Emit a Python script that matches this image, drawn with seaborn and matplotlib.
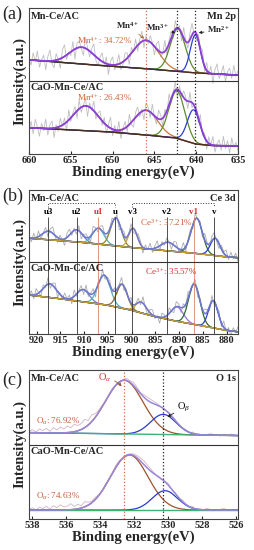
import numpy as np
import pandas as pd
import seaborn as sns
import matplotlib.pyplot as plt

sns.set_style("ticks")
plt.rcParams['font.family'] = ['Liberation Serif', 'DejaVu Serif']
plt.rcParams['mathtext.fontset'] = 'custom'
plt.rcParams['mathtext.rm'] = 'Liberation Serif'
plt.rcParams['mathtext.it'] = 'Liberation Serif:italic'
plt.rcParams['mathtext.bf'] = 'Liberation Serif:bold'

##################################
## data
##################################

# (a) Mn 2p  -- peak centre, height above background, width (eV)
mn_xlim = (660, 635)
mn_ticks = [660, 655, 650, 645, 640, 635]
mn_guides = [646.0, 642.3, 640.1]
mn_top_c = [653.7, 646.0, 642.2, 640.1]
mn_top_h = [0.23, 0.39, 0.58, 0.52]
mn_top_s = [1.45, 1.5, 0.9, 0.6]
mn_top_bx = [660, 650, 645, 640, 635]
mn_top_by = [1.29, 1.20, 1.16, 1.11, 1.08]
mn_bot_c = [653.2, 646.0, 642.3, 640.3]
mn_bot_h = [0.34, 0.34, 0.65, 0.46]
mn_bot_s = [1.5, 1.4, 0.95, 0.75]
mn_bot_bx = [660, 650, 645, 642.5, 641, 640, 638, 635]
mn_bot_by = [0.36, 0.30, 0.25, 0.22, 0.17, 0.135, 0.115, 0.11]
mn_top_noise = [3, -7, 10, -2, 13, -9, 1, 8, -12, 6, 15, -4, -10, 9, 0, -13, 11, 16, -6, 2,
                 -5, 12, -14, 7, 9, -1, -11, 14, 3, -8, 6, 15, -5, -10, 4, 12, -3, 9, -14, 5,
                 11, -7, 1, 13, -9, -3, 10, 7, -12, 8, -2, 12, -8, 5, 14, -10, 6, -4, 9, 2,
                 -12, 7, 13, -6, -1, 15, -9, 4, 10, -7, 12, -2, 5, -11, 14, 1, -8, 9, 16, -4,
                 -10, 8, 3, 13, -7, 11, -3, 10, -13, 6, 14, -6, 2, 12, -9, 4, 9, -5, 13, -2, 6]
mn_bot_noise = [-4, 9, -8, 12, 2, -11, 7, -3, 13, -9, 5, 10, -13, 4, -6, 11, -1, 8, -12, 14,
                -5, 3, 9, -10, 12, -7, 1, 11, -14, 6, -2, 13, -8, 4, 10, -6, 8, -11, 3, 15,
                -9, 6, -4, 12, -12, 2, 9, -7, 14, -3, -10, 7, 11, -5, 3, -13, 10, 5, -8, 13,
                -2, -9, 12, 6, -11, 8, -4, 15, -6, 1, 11, -12, 7, -3, 9, 4, -10, 13, -7, 2,
                10, -8, 14, -5, 6, -11, 9, -1, 12, -9, 3, 8, -6, 13, -4, 7, -10, 11, -2, 5, -7]

# (b) Ce 3d
ce_xlim = (921.6, 877.6)
ce_ticks = [920, 915, 910, 905, 900, 895, 890, 885, 880]
ce_names = ['u3', 'u2', 'u1', 'u', 'v3', 'v2', 'v1', 'v']
ce_guides = [917.5, 911.6, 907.0, 903.5, 899.9, 892.6, 886.9, 882.7]
ce_top_c = [917.5, 911.6, 907.0, 903.3, 899.7, 892.3, 886.3, 882.4]
ce_top_h = [0.12, 0.17, 0.22, 0.39, 0.27, 0.12, 0.49, 0.24]
ce_top_s = [1.3, 1.3, 1.2, 1.1, 0.9, 1.5, 1.2, 1.0]
ce_top_bx = [921.6, 910, 900, 890, 885, 880, 877.6]
ce_top_by = [1.33, 1.27, 1.20, 1.14, 1.11, 1.07, 1.06]
ce_bot_c = [917.2, 910.2, 905.8, 902.0, 898.0, 890.4, 886.8, 882.8]
ce_bot_h = [0.19, 0.17, 0.41, 0.33, 0.15, 0.20, 0.56, 0.38]
ce_bot_s = [1.4, 1.3, 1.3, 1.1, 1.1, 1.3, 1.2, 1.0]
ce_bot_bx = [921.6, 915, 905, 900, 895, 890, 885, 880, 877.6]
ce_bot_by = [0.54, 0.49, 0.40, 0.33, 0.24, 0.17, 0.11, 0.05, 0.03]
ce_top_noise = [2, -5, 7, -3, 8, -6, 1, 6, -8, 4, 9, -2, -7, 5, 0, -9, 6, 8, -4, 3,
                -6, 7, -8, 2, 5, -1, -7, 9, 3, -5, 4, 8, -3, -6, 2, 7, -2, 5, -9, 3,
                6, -4, 1, 8, -6, -2, 7, 4, -8, 5, -1, 8, -5, 3, 9, -7, 4, -3, 6, 1,
                -8, 5, 7, -4, 0, 9, -6, 3, 6, -5, 8, -1, 4, -7, 9, 2, -5, 6, 8, -3,
                -7, 5, 2, 8, -4, 7, -2, 6, -5]
ce_bot_noise = [-3, 6, -5, 8, 1, -7, 5, -2, 9, -6, 3, 7, -8, 2, -4, 7, 0, 5, -8, 9,
                -3, 2, 6, -7, 8, -5, 1, 7, -9, 4, -1, 8, -5, 3, 6, -4, 5, -7, 2, 9,
                -6, 4, -3, 8, -8, 1, 6, -4, 9, -2, -7, 5, 7, -3, 2, -8, 6, 3, -5, 8,
                -1, -6, 7, 4, -7, 5, -3, 9, -4, 1, 7, -8, 4, -2, 6, 3, -6, 8, -5, 1,
                6, -5, 9, -3, 4, -7, 5, -1, 7]

# (c) O 1s
o_xlim = (538.2, 525.9)
o_ticks = [538, 536, 534, 532, 530, 528, 526]
o_guides = [532.6, 530.3]
o_top_c = [532.6, 530.3]
o_top_h = [0.72, 0.27]
o_top_s = [1.1, 0.75]
o_top_bx = [538.2, 525.9]
o_top_by = [1.16, 1.12]
o_bot_c = [532.3, 530.2]
o_bot_h = [0.74, 0.26]
o_bot_s = [1.1, 0.75]
o_bot_bx = [538.2, 525.9]
o_bot_by = [0.12, 0.12]
o_top_noise = [2, 4, 1, 5, 3, 6, 2, 7, 4, 8, 5, 9, 6, 10, 7, 8, 11, 6, 9, 5,
               3, 2, -1, 1, 2, 0, -2, 1, 3, 2, 4, 3, 1, 3, 4, 4, 3, 2, 0, -1,
               1, 2, 1, -1, 0, 1, -1, 2, 0, 1, -1, 0, 2, 1, 0, -1, 1, 0, 2, 1, 0]
o_bot_noise = [1, 3, 0, 4, 2, 5, 1, 6, 3, 7, 4, 5, 8, 4, 6, 3, 7, 4, 2, 3,
               1, 0, 2, -1, 1, 3, 2, 0, -2, 1, 2, 3, 4, 5, 4, 3, 1, 0, -1, 1,
               2, 0, 1, -1, 2, 1, 0, 2, -1, 1, 0, 2, 1, -1, 0, 1, 2, 0, -1, 1, 0]

mn_pct = ['34.72%', '26.43%']
ce_pct = ['37.21%', '35.57%']
o_pct = ['76.92%', '74.63%']

##################################
## helpers
##################################

def gauss(x, c, h, s):
    return h * np.exp(-(x - c) ** 2 / (2 * s ** 2))

def spectrum(ax, xlim, bx, by, cs, hs, ss, noise, comp_cols, env_col, raw_col, base_col, env_lw=1.3):
    lo, hi = min(xlim), max(xlim)
    xf = np.linspace(lo, hi, 700)
    order = np.argsort(bx)
    bxs, bys = np.array(bx)[order], np.array(by)[order]
    base = np.interp(xf, bxs, bys)
    comps = [gauss(xf, c, h, s) for c, h, s in zip(cs, hs, ss)]
    env = base + np.sum(comps, axis=0)
    xr = np.linspace(hi, lo, len(noise))
    raw = np.interp(xr, xf, env) + np.array(noise) * 0.01
    sns.lineplot(x=xr, y=raw, ax=ax, color=raw_col, lw=0.6, estimator=None)
    for comp, col in zip(comps, comp_cols):
        sns.lineplot(x=xf, y=base + comp, ax=ax, color=col, lw=0.9, estimator=None)
    sns.lineplot(x=xf, y=base, ax=ax, color=base_col, lw=1.0, estimator=None)
    sns.lineplot(x=xf, y=env, ax=ax, color=env_col, lw=env_lw, estimator=None)

def setup(ax, xlim, ticks, name, tag, fig_y):
    ax.set_xlim(xlim)
    ax.set_ylim(0, 2)
    ax.set_xticks(ticks)
    ax.set_yticks([])
    ax.axhline(1, color='#333333', lw=0.8)
    ax.tick_params(axis='x', direction='in', length=2, pad=1.5, labelsize=7.5)
    for lab in ax.get_xticklabels():
        lab.set_fontweight('bold')
    for sp in ax.spines.values():
        sp.set_color('#444444')
        sp.set_linewidth(0.8)
    ax.set_xlabel('Binding energy(eV)', fontsize=10.5, fontweight='bold', labelpad=0.5)
    ax.set_ylabel('Intensity(a.u.)', fontsize=10.5, fontweight='bold', labelpad=2)
    ax.text(0.008, 0.975, 'Mn-Ce/AC', transform=ax.transAxes, ha='left', va='top',
            fontsize=7.5, fontweight='bold')
    ax.text(0.008, 0.485, 'CaO-Mn-Ce/AC', transform=ax.transAxes, ha='left', va='top',
            fontsize=7.5, fontweight='bold')
    ax.text(0.99, 0.975, name, transform=ax.transAxes, ha='right', va='top',
            fontsize=7.5, fontweight='bold')
    fig.text(0.008, fig_y, tag, ha='left', va='center', fontsize=13)

fig = plt.figure(figsize=(2.55, 5.5), dpi=100)
L, W = 29 / 255, 209 / 255
ax_a = fig.add_axes([L, 1 - 154 / 550, W, 146 / 550])
ax_b = fig.add_axes([L, 1 - 334 / 550, W, 144 / 550])
ax_c = fig.add_axes([L, 1 - 519 / 550, W, 149 / 550])

orange = '#D2693A'
red = '#D03030'

##################################
## (a) Mn 2p
##################################
mn_cols = ['#8B3FD6', '#C8783C', '#5E8C2A', '#2A3FD0']
spectrum(ax_a, mn_xlim, mn_top_bx, mn_top_by, mn_top_c, mn_top_h, mn_top_s, mn_top_noise,
         mn_cols, '#8B3FD6', '#BEBEBE', '#4B2E1A')
spectrum(ax_a, mn_xlim, mn_bot_bx, mn_bot_by, mn_bot_c, mn_bot_h, mn_bot_s, mn_bot_noise,
         mn_cols, '#8B3FD6', '#BEBEBE', '#4B2E1A')
for x, col in zip(mn_guides, [orange, '#222222', '#222222']):
    ax_a.axvline(x, color=col, ls=':', lw=0.9)
setup(ax_a, mn_xlim, mn_ticks, 'Mn 2p', '(a)', 1 - 14 / 550)
arw = dict(arrowstyle='-|>', lw=0.6, mutation_scale=4, shrinkA=0, shrinkB=0)
ax_a.annotate('Mn$^{\\mathbf{4+}}$', xy=(646.2, 1.58), xytext=(648.2, 1.76), fontsize=6.5,
              fontweight='bold', ha='center', va='center',
              arrowprops=dict(arw, color='#B8733A'))
ax_a.annotate('Mn$^{\\mathbf{3+}}$', xy=(642.5, 1.66), xytext=(644.6, 1.73), fontsize=6.5,
              fontweight='bold', ha='center', va='center',
              arrowprops=dict(arw, color='#222222'))
ax_a.annotate('Mn$^{\\mathbf{2+}}$', xy=(639.7, 1.66), xytext=(637.3, 1.70), fontsize=6.5,
              fontweight='bold', ha='center', va='center',
              arrowprops=dict(arw, color='#222222'))
ax_a.text(650.9, 1.55, 'Mn$^{4+}$: ' + mn_pct[0], color=orange, fontsize=6.5,
          ha='center', va='center')
ax_a.text(650.9, 0.77, 'Mn$^{4+}$: ' + mn_pct[1], color=orange, fontsize=6.5,
          ha='center', va='center')

##################################
## (b) Ce 3d
##################################
ce_top_cols = ['#6E78D0', '#6E78D0', '#4FB0C6', '#8A8A2A', '#D4A82A', '#9A70D8', '#2E6B2E', '#2A40C8']
ce_bot_cols = ['#6E78D0', '#6E78D0', '#4FB0C6', '#8A6A2A', '#D49A2A', '#9A70D8', '#2E6B2E', '#2A40C8']
spectrum(ax_b, ce_xlim, ce_top_bx, ce_top_by, ce_top_c, ce_top_h, ce_top_s, ce_top_noise,
         ce_top_cols, '#6E78D0', '#ABABAB', '#C8A030', env_lw=1.1)
spectrum(ax_b, ce_xlim, ce_bot_bx, ce_bot_by, ce_bot_c, ce_bot_h, ce_bot_s, ce_bot_noise,
         ce_bot_cols, '#6E78D0', '#ABABAB', '#C8A030', env_lw=1.1)
for x, nm in zip(ce_guides, ce_names):
    col = '#E08070' if nm in ('u1', 'v1') else '#333333'
    ax_b.vlines(x, 0, 1.63, color=col, lw=0.6)
    ax_b.text(x, 1.70, nm, color=red if nm in ('u1', 'v1') else 'k', fontsize=6.5,
              fontweight='bold', ha='center', va='center')
for a, b in [(ce_guides[0], ce_guides[3]), (ce_guides[4], ce_guides[7])]:
    ax_b.plot([a, a, b, b], [1.76, 1.82, 1.82, 1.76], color='#333333', ls=':', lw=0.7)
setup(ax_b, ce_xlim, ce_ticks, 'Ce 3d', '(b)', 1 - 196 / 550)
ax_b.text(892.6, 1.55, 'Ce$^{3+}$: ' + ce_pct[0], color='#C8603A', fontsize=6.5,
          ha='center', va='center')
ax_b.text(891.7, 0.87, 'Ce$^{3+}$: ' + ce_pct[1], color=red, fontsize=6.5,
          ha='center', va='center')

##################################
## (c) O 1s
##################################
o_cols = ['#A0522D', '#2A3AD0']
spectrum(ax_c, o_xlim, o_top_bx, o_top_by, o_top_c, o_top_h, o_top_s, o_top_noise,
         o_cols, '#9A86D8', '#D4B4C4', '#3CB371', env_lw=1.1)
spectrum(ax_c, o_xlim, o_bot_bx, o_bot_by, o_bot_c, o_bot_h, o_bot_s, o_bot_noise,
         o_cols, '#9A86D8', '#D4B4C4', '#3CB371', env_lw=1.1)
for x, col in zip(o_guides, [orange, '#222222']):
    ax_c.axvline(x, color=col, ls=':', lw=0.9)
setup(ax_c, o_xlim, o_ticks, 'O 1s', '(c)', 1 - 380 / 550)
ax_c.annotate('O$_\\alpha$', xy=(532.75, 1.78), xytext=(533.75, 1.89), fontsize=7.5,
              color=red, ha='center', va='center',
              arrowprops=dict(arw, color='#8B5A2B', connectionstyle='arc3,rad=-0.2'))
ax_c.annotate('O$_\\beta$', xy=(530.05, 1.37), xytext=(529.1, 1.50), fontsize=7.5,
              color='k', ha='center', va='center',
              arrowprops=dict(arw, color='#222222'))
ax_c.text(536.5, 1.31, 'O$_\\alpha$: ' + o_pct[0], color='#C0603A', fontsize=6.5,
          ha='center', va='center')
ax_c.text(536.5, 0.30, 'O$_\\alpha$: ' + o_pct[1], color='#C0603A', fontsize=6.5,
          ha='center', va='center')

fig.savefig('out.png', dpi=100)
